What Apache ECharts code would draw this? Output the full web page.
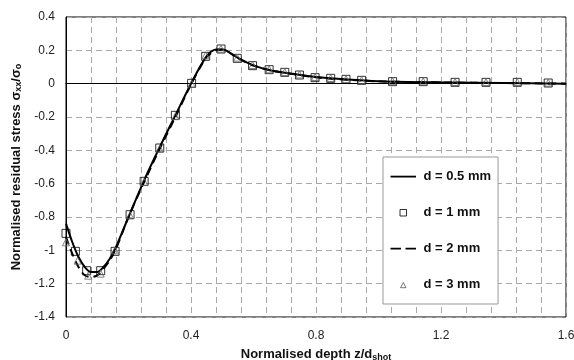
<!DOCTYPE html>
<html>
<head>
<meta charset="utf-8">
<script src="https://cdn.jsdelivr.net/npm/echarts@6/dist/echarts.min.js"></script>
<style>
  html, body { margin: 0; padding: 0; background: #fff; }
  #chart { width: 574px; height: 360px; }
</style>
</head>
<body>
<div id="chart"></div>
<script>
// Normalised depth z/d_shot for the simulated profiles
var depthLine = [0, 0.02, 0.04, 0.06, 0.08, 0.1, 0.12, 0.14, 0.16, 0.2, 0.25, 0.3, 0.35, 0.4, 0.45, 0.48, 0.5, 0.55, 0.6, 0.65, 0.7, 0.8, 0.9, 1.0, 1.2, 1.4, 1.6];
// d = 0.5 mm (solid)
var stress05 = [-0.84, -0.95, -1.04, -1.10, -1.13, -1.13, -1.10, -1.05, -0.98, -0.80, -0.58, -0.38, -0.19, 0.0, 0.165, 0.205, 0.205, 0.155, 0.11, 0.082, 0.065, 0.04, 0.025, 0.015, 0.008, 0.004, 0.0];
// d = 2 mm (dashed)
var stress2 = [-0.92, -1.02, -1.10, -1.15, -1.16, -1.15, -1.11, -1.06, -0.99, -0.80, -0.59, -0.39, -0.20, -0.005, 0.16, 0.2, 0.205, 0.152, 0.108, 0.082, 0.065, 0.038, 0.024, 0.014, 0.007, 0.004, 0.0];
// d = 1 mm (squares)
var depth1 = [0, 0.03, 0.066, 0.111, 0.157, 0.205, 0.25, 0.3, 0.35, 0.402, 0.447, 0.496, 0.548, 0.597, 0.65, 0.7, 0.747, 0.797, 0.847, 0.896, 0.946, 1.045, 1.143, 1.245, 1.344, 1.444, 1.543];
var stress1 = [-0.898, -1.006, -1.122, -1.122, -1.006, -0.786, -0.586, -0.386, -0.19, 0.002, 0.164, 0.208, 0.152, 0.108, 0.084, 0.068, 0.052, 0.036, 0.032, 0.026, 0.02, 0.012, 0.012, 0.008, 0.008, 0.008, 0.004];
// d = 3 mm (triangles)
var depth3 = [0, 0.037, 0.071, 0.111, 0.157, 0.205, 0.25, 0.3, 0.35, 0.402, 0.447, 0.496, 0.548, 0.597, 0.65, 0.7, 0.747, 0.797, 0.847, 0.896, 0.946, 1.045, 1.143, 1.245, 1.344, 1.444, 1.543];
var stress3 = [-0.952, -1.062, -1.152, -1.14, -1.0, -0.79, -0.59, -0.39, -0.195, 0.0, 0.17, 0.21, 0.156, 0.112, 0.086, 0.07, 0.055, 0.04, 0.034, 0.028, 0.022, 0.015, 0.014, 0.01, 0.01, 0.01, 0.006];

var seriesNames = ['d = 0.5 mm', 'd = 1 mm', 'd = 2 mm', 'd = 3 mm'];

function pairs(xs, ys) {
  return xs.map(function (x, i) { return [x, ys[i]]; });
}

var FONT = '"Liberation Sans", Arial, sans-serif';
var gridDash = { color: '#a8a8a8', width: 1, type: [6, 4] };

// Legend keys: the leading/trailing moveTo points fix each path's box to 28x8
var ICON_SOLID = 'path://M0,0M0,3.2h25.5v1.8h-25.5zM28,8';
var ICON_DASH = 'path://M0,0M0,3.2h10.5v1.8h-10.5zM15,3.2h10.5v1.8h-10.5zM28,8';
var ICON_SQUARE = 'path://M0,0M9.5,1h6.5v6.5h-6.5zM28,8';
var ICON_TRI = 'path://M0,0M12.75,2L15.5,7.2h-5.5zM28,8';

var hollowBlack = { color: '#fff', borderColor: '#000', borderWidth: 1 };
var hollowGrey = { color: '#fff', borderColor: '#555', borderWidth: 1 };

var chart = echarts.init(document.getElementById('chart'), null, { renderer: 'canvas' });
chart.setOption({
  animation: false,
  backgroundColor: '#fff',
  grid: {
    left: 66, right: 8, top: 17, bottom: 43,
    outerBoundsMode: 'none', containLabel: false,
    show: true, borderColor: '#000', borderWidth: 1
  },
  xAxis: {
    type: 'value', min: 0, max: 1.6, interval: 0.4,
    axisLine: { show: true, onZero: true, lineStyle: { color: '#000', width: 1 } },
    axisTick: { show: false },
    axisLabel: { color: '#222', fontFamily: FONT, fontSize: 12, margin: 13 },
    splitLine: { show: true, lineStyle: gridDash },
    minorTick: { show: false, splitNumber: 5 },
    minorSplitLine: { show: true, lineStyle: gridDash },
    name: '{b|Normalised depth z/d}{s|shot}',
    nameLocation: 'middle', nameGap: 30,
    nameTextStyle: {
      rich: {
        b: { fontFamily: FONT, fontSize: 13, fontWeight: 'bold', color: '#111' },
        s: { fontFamily: FONT, fontSize: 9, fontWeight: 'bold', color: '#111', verticalAlign: 'bottom', padding: [6, 0, 0, 0] }
      }
    }
  },
  yAxis: {
    type: 'value', min: -1.4, max: 0.4, interval: 0.2,
    axisLine: { show: true, lineStyle: { color: '#000', width: 1 } },
    axisTick: { show: false },
    axisLabel: { color: '#222', fontFamily: FONT, fontSize: 12, margin: 11 },
    splitLine: { show: true, lineStyle: gridDash },
    name: '{b|Normalised residual stress σ}{s|xx}{b|/σ}{s|o}',
    nameLocation: 'middle', nameGap: 40, nameRotate: 90,
    nameTextStyle: {
      rich: {
        b: { fontFamily: FONT, fontSize: 13, fontWeight: 'bold', color: '#111' },
        s: { fontFamily: FONT, fontSize: 9, fontWeight: 'bold', color: '#111', verticalAlign: 'bottom', padding: [6, 0, 0, 0] }
      }
    }
  },
  legend: {
    orient: 'vertical',
    left: 383, top: 157,
    data: [
      { name: seriesNames[0], icon: ICON_SOLID, itemStyle: { color: '#000', borderWidth: 0 } },
      { name: seriesNames[1], icon: ICON_SQUARE, itemStyle: hollowBlack },
      { name: seriesNames[2], icon: ICON_DASH, itemStyle: { color: '#000', borderWidth: 0 } },
      { name: seriesNames[3], icon: ICON_TRI, itemStyle: hollowGrey }
    ],
    backgroundColor: '#fff',
    borderColor: '#999', borderWidth: 1,
    padding: [13, 7, 13, 7],
    itemGap: 23, itemWidth: 28, itemHeight: 8,
    textStyle: { fontFamily: FONT, fontSize: 13, fontWeight: 'bold', color: '#111' }
  },
  series: [
    {
      name: seriesNames[0], type: 'line', data: pairs(depthLine, stress05),
      symbol: 'none', smooth: 0.3, z: 3,
      lineStyle: { color: '#000', width: 2 }, itemStyle: { color: '#000' }
    },
    {
      name: seriesNames[1], type: 'scatter', data: pairs(depth1, stress1),
      symbol: 'rect', symbolSize: 8, z: 4,
      itemStyle: { color: 'transparent', borderColor: '#000', borderWidth: 1 }
    },
    {
      name: seriesNames[2], type: 'line', data: pairs(depthLine, stress2),
      symbol: 'none', smooth: 0.3, z: 3,
      lineStyle: { color: '#000', width: 2, type: [8, 5] }, itemStyle: { color: '#000' }
    },
    {
      name: seriesNames[3], type: 'scatter', data: pairs(depth3, stress3),
      symbol: 'triangle', symbolSize: 7, z: 4,
      itemStyle: { color: 'transparent', borderColor: '#666', borderWidth: 1 }
    }
  ]
});
</script>
</body>
</html>
